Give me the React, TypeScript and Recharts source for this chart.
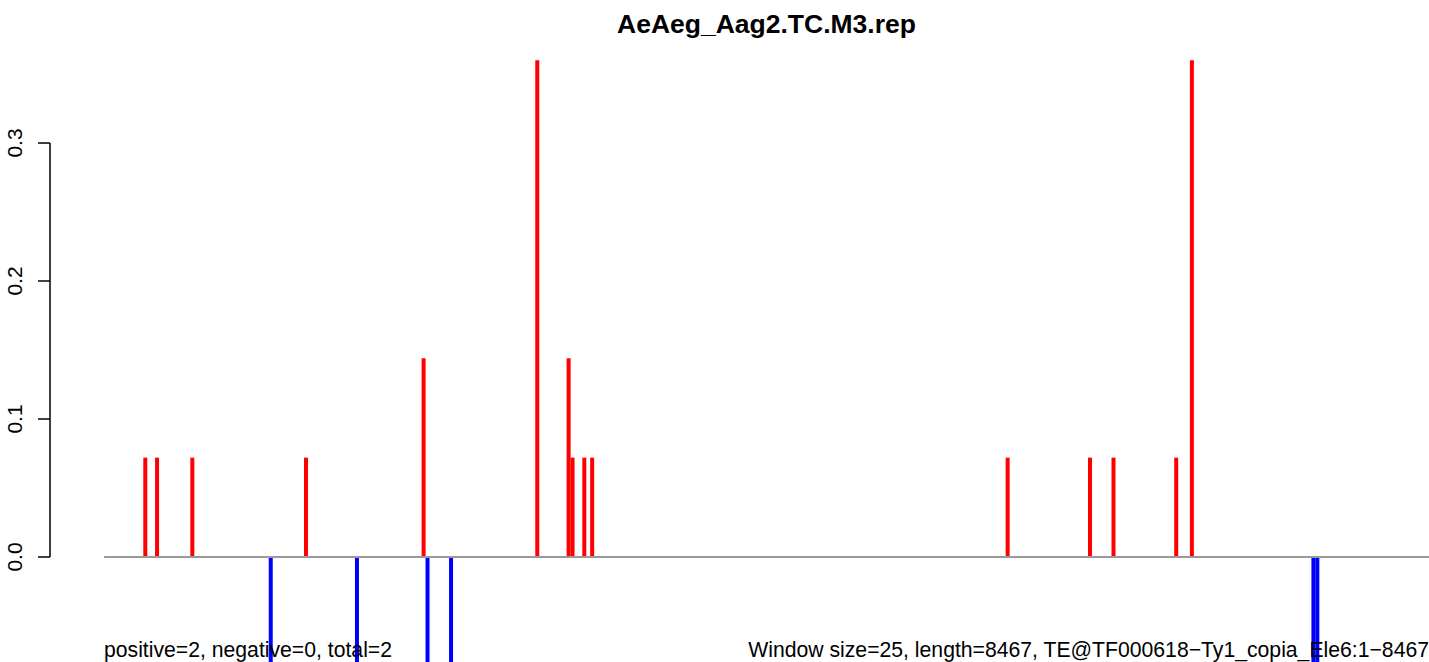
import React from "react";
import { BarChart, Bar, XAxis, YAxis, ReferenceLine } from "recharts";

const title = "AeAeg_Aag2.TC.M3.rep";
const leftNote = "positive=2, negative=0, total=2";
const rightNote = "Window size=25, length=8467, TE@TF000618\u2212Ty1_copia_Ele6:1\u22128467";

// 8467 bp / window 25 -> 338 windows
const binCount = 338;

// sense strand (red, above zero)
const plusBins = [10, 13, 22, 51, 81, 110, 118, 119, 122, 124, 230, 251, 257, 273, 277];
const plusValues = [0.072, 0.072, 0.072, 0.072, 0.144, 0.36, 0.144, 0.072, 0.072, 0.072, 0.072, 0.072, 0.072, 0.072, 0.36];

// antisense strand (blue, below zero, runs off the bottom)
const minusBins = [42, 64, 82, 88, 308, 309];
const minusValues = [-0.144, -0.144, -0.144, -0.144, -0.144, -0.144];

const yTicks = [0, 0.1, 0.2, 0.3];

const data = Array.from({ length: binCount }, (_, i) => {
  const p = plusBins.indexOf(i);
  const m = minusBins.indexOf(i);
  return {
    pos: i + 0.5,
    plus: p >= 0 ? plusValues[p] : 0,
    minus: m >= 0 ? minusValues[m] : 0,
  };
});

const FONT = "'Liberation Sans', Arial, Helvetica, sans-serif";

const YTick = (props: any) => {
  const { x, y, payload } = props;
  return (
    <text
      x={x}
      y={y}
      transform={`rotate(-90, ${x}, ${y})`}
      textAnchor="middle"
      fontSize={21}
      fontFamily={FONT}
      fill="#000"
    >
      {Number(payload.value).toFixed(1)}
    </text>
  );
};

export default function App() {
  return (
    <div
      style={{
        position: "absolute",
        left: 0,
        top: 0,
        width: 1429,
        height: 662,
        overflow: "hidden",
        background: "#fff",
        fontFamily: FONT,
      }}
    >
      <BarChart
        width={1429}
        height={662}
        data={data}
        stackOffset="sign"
        barCategoryGap={0}
        barGap={0}
        margin={{ top: 50, right: 0, bottom: 0, left: 0 }}
      >
        <XAxis dataKey="pos" type="number" domain={[-13.8, binCount]} hide />
        <YAxis
          width={50}
          domain={[-0.0761, 0.3674]}
          allowDataOverflow
          ticks={yTicks}
          axisLine={false}
          tickLine={{ stroke: "#000", strokeWidth: 1.5 }}
          tickSize={12}
          tickMargin={16}
          tick={<YTick />}
        />
        <ReferenceLine
          segment={[
            { x: -13.8, y: 0 },
            { x: -13.8, y: 0.3 },
          ]}
          stroke="#000"
          strokeWidth={1.5}
          ifOverflow="visible"
        />
        <ReferenceLine
          segment={[
            { x: 0, y: 0 },
            { x: binCount, y: 0 },
          ]}
          stroke="#9a9a9a"
          strokeWidth={2}
        />
        <Bar dataKey="plus" stackId="s" fill="#ff0000" isAnimationActive={false} />
        <Bar dataKey="minus" stackId="s" fill="#0000ff" isAnimationActive={false} />
      </BarChart>

      <div
        style={{
          position: "absolute",
          left: 0,
          width: 1533,
          top: 9,
          textAlign: "center",
          fontWeight: "bold",
          fontSize: 26.5,
          lineHeight: "30px",
          whiteSpace: "nowrap",
        }}
      >
        {title}
      </div>
      <div
        style={{
          position: "absolute",
          left: 104,
          top: 638,
          fontSize: 21.2,
          lineHeight: "24px",
          whiteSpace: "nowrap",
        }}
      >
        {leftNote}
      </div>
      <div
        style={{
          position: "absolute",
          right: 0,
          top: 638,
          fontSize: 21.2,
          lineHeight: "24px",
          whiteSpace: "nowrap",
        }}
      >
        {rightNote}
      </div>
    </div>
  );
}
